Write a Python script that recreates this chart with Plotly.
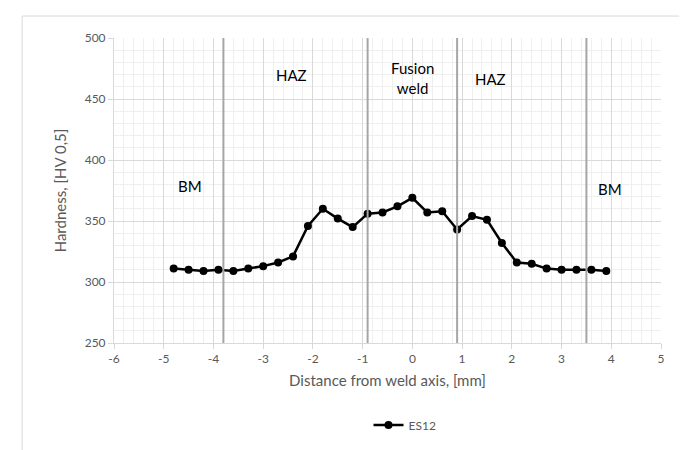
import plotly.graph_objects as go

distance_mm = [-4.8, -4.5, -4.2, -3.9, -3.6, -3.3, -3.0, -2.7, -2.4, -2.1,
               -1.8, -1.5, -1.2, -0.9, -0.6, -0.3, 0.0, 0.3, 0.6, 0.9,
               1.2, 1.5, 1.8, 2.1, 2.4, 2.7, 3.0, 3.3, 3.6, 3.9]
hardness_es12 = [311, 310, 309, 310, 309, 311, 313, 316, 321, 346,
                 360, 352, 345, 356, 357, 362, 369, 357, 358, 343,
                 354, 351, 332, 316, 315, 311, 310, 310, 310, 309]
zone_boundaries = [-3.8, -0.9, 0.9, 3.5]
zone_labels = ["BM", "HAZ", "Fusion<br>weld", "HAZ", "BM"]
zone_label_x = [-4.48, -2.43, 0.0, 1.58, 3.97]
zone_label_y = [379, 470, 467.5, 466.5, 376]
x_tick_vals = [-6, -5, -4, -3, -2, -1, 0, 1, 2, 3, 4, 5]
x_tick_text = ["-6", "-5", "-4", "-3", "-2", "-1", "0", "1", "2", "3", "4", "5"]

FONT = "Lato, 'Open Sans', sans-serif"
GRAY = "#595959"

fig = go.Figure()
fig.add_trace(go.Scatter(
    x=distance_mm, y=hardness_es12, mode="lines+markers", name="ES12",
    line=dict(color="black", width=2.5),
    marker=dict(color="black", size=8),
))

for xb in zone_boundaries:
    fig.add_shape(type="line", x0=xb, x1=xb, y0=250, y1=500,
                  xref="x", yref="y", line=dict(color="#a6a6a6", width=2))

for t, xx, yy in zip(zone_labels, zone_label_x, zone_label_y):
    fig.add_annotation(x=xx, y=yy, text=t, showarrow=False,
                       font=dict(family=FONT, size=15, color="black"))

# chart border
fig.add_shape(type="rect", xref="paper", yref="paper",
              x0=-0.168, x1=1.055, y0=-0.45, y1=1.072,
              line=dict(color="#d9d9d9", width=1), layer="below")

fig.update_layout(
    width=687, height=450,
    margin=dict(l=106, r=34, t=30, b=115),
    paper_bgcolor="white", plot_bgcolor="white",
    font=dict(family=FONT, size=12, color=GRAY),
    showlegend=True,
    legend=dict(orientation="h", x=0.532, y=-0.269, xanchor="center", yanchor="middle",
                font=dict(size=12, color=GRAY), itemwidth=30),
    xaxis=dict(range=[-6, 5], tickmode="array", tickvals=x_tick_vals, ticktext=x_tick_text,
               showgrid=True, gridcolor="#d9d9d9",
               zeroline=False, showline=True, linecolor="#d9d9d9", linewidth=1,
               ticks="outside", ticklen=5, tickcolor="#d9d9d9",
               minor=dict(dtick=0.2, tick0=-6, showgrid=True, gridcolor="#efefef"),
               title=dict(text="Distance from weld axis, [mm]", font=dict(size=15, color=GRAY),
                          standoff=10),
               tickfont=dict(size=12, color=GRAY)),
    yaxis=dict(range=[250, 500], dtick=50, showgrid=True, gridcolor="#d9d9d9",
               zeroline=False, showline=True, linecolor="#d9d9d9", linewidth=1,
               ticks="outside", ticklen=5, tickcolor="#d9d9d9",
               minor=dict(dtick=10, showgrid=True, gridcolor="#efefef"),
               title=dict(text="Hardness, [HV 0,5]", font=dict(size=15, color=GRAY),
                          standoff=14),
               tickfont=dict(size=12, color=GRAY)),
)

fig.write_html("out.html")
